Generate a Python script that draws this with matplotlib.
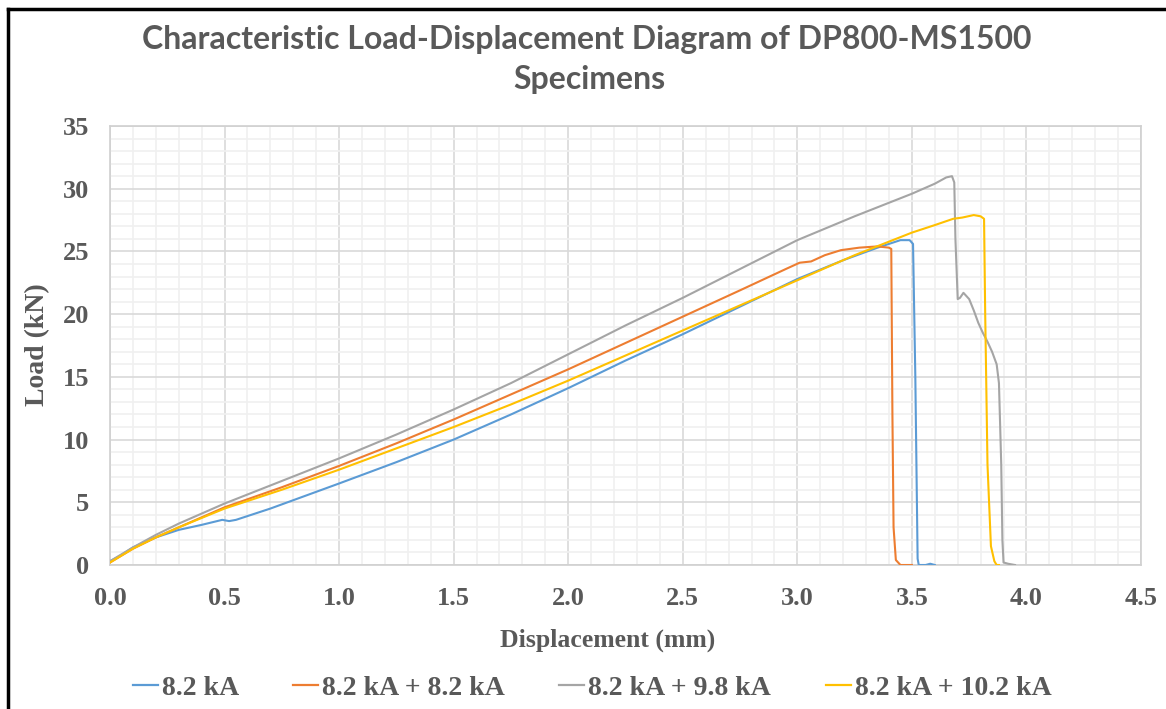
import matplotlib
matplotlib.use("Agg")
import matplotlib.pyplot as plt
from matplotlib.lines import Line2D
from matplotlib.ticker import MultipleLocator, FormatStrFormatter

# Load-displacement curves (displacement in mm, load in kN)
blue_x = [0, 0.05, 0.1, 0.2, 0.3, 0.4, 0.49, 0.52, 0.55, 0.7, 0.85, 1.0, 1.25, 1.5, 1.75,
          2.0, 2.25, 2.5, 2.75, 3.0, 3.2, 3.35, 3.45, 3.49, 3.505, 3.515, 3.525, 3.53, 3.56,
          3.58, 3.6]
blue_y = [0.3, 0.8, 1.4, 2.2, 2.8, 3.2, 3.6, 3.5, 3.6, 4.5, 5.5, 6.5, 8.2, 10.0, 12.0,
          14.1, 16.3, 18.4, 20.6, 22.8, 24.3, 25.3, 25.9, 25.9, 25.6, 15.0, 0.5, 0.0, 0.0,
          0.1, 0.0]

orange_x = [0, 0.1, 0.2, 0.3, 0.5, 0.75, 1.0, 1.25, 1.5, 1.75, 2.0, 2.25, 2.5, 2.75, 2.95,
            3.01, 3.06, 3.12, 3.19, 3.27, 3.35, 3.40, 3.41, 3.415, 3.42, 3.43, 3.45, 3.5]
orange_y = [0.2, 1.3, 2.2, 3.0, 4.6, 6.2, 7.9, 9.7, 11.6, 13.6, 15.6, 17.7, 19.8, 21.9, 23.6,
            24.1, 24.2, 24.7, 25.1, 25.3, 25.4, 25.3, 25.2, 12.0, 3.0, 0.4, 0.0, 0.0]

gray_x = [0, 0.1, 0.2, 0.3, 0.5, 0.75, 1.0, 1.25, 1.5, 1.75, 2.0, 2.25, 2.5, 2.75, 3.0, 3.25,
          3.5, 3.6, 3.65, 3.675, 3.685, 3.69, 3.70, 3.71, 3.725, 3.75, 3.77, 3.79, 3.81, 3.83,
          3.85, 3.87, 3.88, 3.89, 3.895, 3.90, 3.92, 3.95]
gray_y = [0.3, 1.4, 2.4, 3.3, 4.9, 6.7, 8.5, 10.4, 12.4, 14.5, 16.8, 19.1, 21.3, 23.6, 25.9,
          27.8, 29.6, 30.4, 30.9, 31.0, 30.5, 26.0, 21.2, 21.3, 21.7, 21.2, 20.3, 19.3, 18.5,
          17.8, 17.0, 16.0, 14.5, 8.0, 2.0, 0.2, 0.1, 0.0]

yellow_x = [0, 0.1, 0.2, 0.3, 0.5, 0.75, 1.0, 1.25, 1.5, 1.75, 2.0, 2.25, 2.5, 2.75, 3.0,
            3.25, 3.5, 3.6, 3.68, 3.72, 3.77, 3.80, 3.815, 3.82, 3.83, 3.845, 3.86, 3.87, 3.88]
yellow_y = [0.2, 1.3, 2.2, 3.0, 4.5, 6.0, 7.6, 9.3, 11.0, 12.8, 14.7, 16.7, 18.7, 20.7, 22.7,
            24.7, 26.5, 27.1, 27.6, 27.7, 27.9, 27.8, 27.6, 20.0, 8.0, 1.5, 0.3, 0.0, 0.0]

series_labels = ["8.2 kA", "8.2 kA + 8.2 kA", "8.2 kA + 9.8 kA", "8.2 kA + 10.2 kA"]
series_colors = ["#5B9BD5", "#ED7D31", "#A5A5A5", "#FFC000"]

title_line1 = "Characteristic Load-Displacement Diagram of DP800-MS1500"
title_line2 = "Specimens"
x_label = "Displacement (mm)"
y_label = "Load (kN)"

text_gray = "#595959"
serif = ["Liberation Serif", "DejaVu Serif"]
sans = ["Lato", "DejaVu Sans"]

W, H = 1166, 709
fig = plt.figure(figsize=(W / 100, H / 100), dpi=100)
ax = fig.add_axes([110 / W, 1 - 565 / H, (1141 - 110) / W, (565 - 126) / H])

curves = [(blue_x, blue_y), (orange_x, orange_y), (gray_x, gray_y), (yellow_x, yellow_y)]
for (xs, ys), col, lab in zip(curves, series_colors, series_labels):
    ax.plot(xs, ys, color=col, lw=1.5, label=lab, solid_joinstyle="round", zorder=3)

ax.set_xlim(0, 4.5)
ax.set_ylim(0, 35)
ax.xaxis.set_major_locator(MultipleLocator(0.5))
ax.xaxis.set_minor_locator(MultipleLocator(0.1))
ax.yaxis.set_major_locator(MultipleLocator(5))
ax.yaxis.set_minor_locator(MultipleLocator(1))
ax.xaxis.set_major_formatter(FormatStrFormatter("%.1f"))

ax.grid(which="major", color="#D9D9D9", lw=1.2, zorder=0)
ax.grid(which="minor", color="#F0F0F0", lw=1.2, zorder=0)
ax.set_axisbelow(True)
for sp in ax.spines.values():
    sp.set_color("#D0D0D0")
    sp.set_linewidth(1.2)

ax.tick_params(which="both", length=0)
ax.tick_params(axis="x", pad=16)
ax.tick_params(axis="y", pad=15)
for lbl in ax.get_xticklabels() + ax.get_yticklabels():
    lbl.set_fontfamily(serif)
    lbl.set_fontweight("bold")
    lbl.set_fontsize(19)
    lbl.set_color(text_gray)

fig.text(608 / W, 1 - 640 / H, x_label, ha="center", va="center",
         fontfamily=serif, fontweight="bold", fontsize=18.5, color=text_gray)
fig.text(38 / W, 1 - 345 / H, y_label, ha="center", va="center", rotation=90,
         fontfamily=serif, fontweight="bold", fontsize=20, color=text_gray)

fig.text(587 / W, 1 - 40 / H, title_line1, ha="center", va="center",
         fontfamily=sans, fontweight="bold", fontsize=23, color=text_gray)
fig.text(589 / W, 1 - 80 / H, title_line2, ha="center", va="center",
         fontfamily=sans, fontweight="bold", fontsize=23, color=text_gray)

handles = [Line2D([0], [0], color=c, lw=1.6) for c in series_colors]
leg = fig.legend(handles, series_labels, loc="center", bbox_to_anchor=(592 / W, 1 - 688 / H),
                 ncol=4, frameon=False, handlelength=0.9, handletextpad=0.15,
                 columnspacing=1.95, prop={"family": serif, "weight": "bold", "size": 20})
for t in leg.get_texts():
    t.set_color(text_gray)

# Frame lines along the top and left edges of the figure
fig.add_artist(Line2D([8 / W, 1.0], [1 - 9 / H, 1 - 9 / H], color="black", lw=2.5,
                      transform=fig.transFigure))
fig.add_artist(Line2D([8 / W, 8 / W], [0.0, 1 - 9 / H], color="black", lw=2.5,
                      transform=fig.transFigure))

fig.savefig("out.png", dpi=100, facecolor="white")
